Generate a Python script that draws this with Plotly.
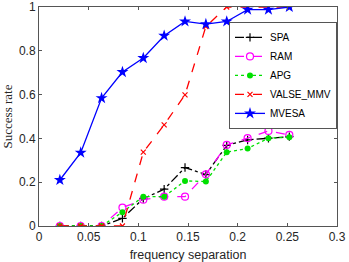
import plotly.graph_objects as go

# frequency separation values
freq_sep = [0.021, 0.042, 0.063, 0.084, 0.105, 0.126, 0.147, 0.168, 0.189, 0.21, 0.231, 0.252]

# success rate of each method
spa = [0, 0, 0, 0.035, 0.125, 0.168, 0.267, 0.235, 0.368, 0.393, 0.401, 0.408]
ram = [0, 0, 0, 0.084, 0.12, 0.134, 0.134, 0.236, 0.37, 0.401, 0.434, 0.416]
apg = [0, 0, 0, 0.063, 0.134, 0.134, 0.206, 0.203, 0.337, 0.354, 0.401, 0.405]
valse_mmv = [0, 0, 0, 0, 0.337, 0.462, 0.599, 0.911, 1.0, 1.0, 1.0, 1.0]
mvesa = [0.21, 0.335, 0.584, 0.703, 0.767, 0.869, 0.934, 0.922, 0.934, 0.988, 0.988, 1.0]

x_ticks = [0, 0.05, 0.1, 0.15, 0.2, 0.25, 0.3]
x_tick_labels = ["0", "0.05", "0.1", "0.15", "0.2", "0.25", "0.3"]
y_ticks = [0, 0.2, 0.4, 0.6, 0.8, 1]
y_tick_labels = ["0", "0.2", "0.4", "0.6", "0.8", "1"]

series = [
    ("SPA", spa, "black", "dashdot", dict(symbol="cross-thin", size=6, line=dict(color="black", width=1.2))),
    ("RAM", ram, "magenta", "dash", dict(symbol="circle-open", size=7, color="magenta", line=dict(color="magenta", width=1.2))),
    ("APG", apg, "#00e000", "dot", dict(symbol="circle", size=6, color="#00e000")),
    ("VALSE_MMV", valse_mmv, "red", "dash", dict(symbol="x-thin", size=5, line=dict(color="red", width=1.2))),
    ("MVESA", mvesa, "blue", "solid", dict(symbol="star", size=9, color="blue")),
]

fig = go.Figure()
for name, vals, color, dash, marker in series:
    fig.add_trace(
        go.Scatter(
            x=freq_sep,
            y=vals,
            name=name,
            mode="lines+markers",
            line=dict(color=color, dash=dash, width=1.3),
            marker=marker,
        )
    )

axis_style = dict(
    showline=True,
    linecolor="#555555",
    linewidth=1,
    mirror="ticks",
    ticks="inside",
    ticklen=3,
    tickcolor="#555555",
    showgrid=False,
    zeroline=False,
    automargin=False,
    tickfont=dict(family="Liberation Sans, Arial", size=12, color="#262626"),
)

fig.update_layout(
    width=349,
    height=262,
    plot_bgcolor="white",
    paper_bgcolor="white",
    margin=dict(l=39, r=12, t=7, b=36),
    xaxis=dict(
        axis_style,
        range=[0, 0.3],
        tickvals=x_ticks,
        ticktext=x_tick_labels,
        title=dict(text="frequency separation", standoff=9,
                   font=dict(family="Liberation Sans, Arial", size=12.5, color="#262626")),
    ),
    yaxis=dict(
        axis_style,
        range=[0, 1],
        tickvals=y_ticks,
        ticktext=y_tick_labels,
        title=dict(text="Success rate", standoff=4,
                   font=dict(family="Liberation Serif, Times New Roman", size=13, color="#262626")),
    ),
    legend=dict(
        x=1,
        xanchor="right",
        y=0.932,
        yanchor="top",
        bgcolor="white",
        bordercolor="#555555",
        borderwidth=1,
        font=dict(family="Liberation Sans, Arial", size=10, color="black"),
        tracegroupgap=0,
        itemwidth=30,
    ),
)

# drop the browser's default body margin so the figure sits at the page corner
fig.write_html(
    "out.html",
    config={"displayModeBar": False},
    post_script="document.body.style.margin='0';",
)
